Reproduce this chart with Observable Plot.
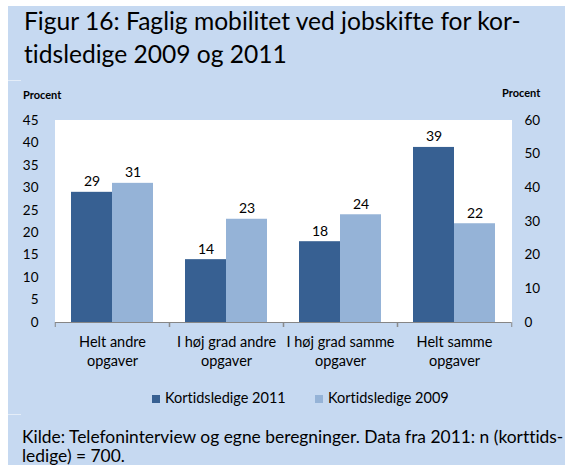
<!DOCTYPE html>
<html><head><meta charset="utf-8">
<script src="https://cdn.jsdelivr.net/npm/d3@7"></script>
<script src="https://cdn.jsdelivr.net/npm/@observablehq/plot@0.6"></script>
<style>
body{margin:0;background:#fff;width:565px;height:465px;overflow:hidden;position:relative;font-family:Lato,"Open Sans",sans-serif;color:#000;font-variant-ligatures:none;}
#bg{position:absolute;left:8px;top:6px;width:557px;height:459px;background:#c6d9f1;}
.sep{position:absolute;left:8px;width:13px;height:1px;background:#e4edf8;}
#title{position:absolute;left:24px;top:4px;font-size:24.6px;line-height:33px;white-space:nowrap;}
.procent{position:absolute;font-size:11px;font-weight:bold;line-height:13px;}
#chart{position:absolute;left:8px;top:80px;}
#legend{position:absolute;left:0;top:389px;width:565px;font-size:14.5px;}
.li{position:absolute;top:0;white-space:nowrap;line-height:18px;}
.sw{display:inline-block;width:8px;height:8px;margin-right:5px;vertical-align:0px;}
#caption{position:absolute;left:22px;top:427px;font-size:17.4px;line-height:19px;white-space:nowrap;}
svg text{font-variant-ligatures:none;}
</style>
</head><body>
<div id="bg"></div>
<div class="sep" style="top:80px"></div>
<div class="sep" style="top:414px"></div>
<div id="title">Figur 16: Faglig mobilitet ved jobskifte for kor-<br>tidsledige 2009 og 2011</div>
<div class="procent" style="left:23px;top:88px">Procent</div>
<div class="procent" style="left:502px;top:86px">Procent</div>
<div id="chart"></div>
<div id="legend"></div>
<div id="caption">Kilde: Telefoninterview og egne beregninger. Data fra 2011: n (korttids-<br>ledige) = 700.</div>
<script>
const categories = ["Helt andre opgaver", "I høj grad andre opgaver", "I høj grad samme opgaver", "Helt samme opgaver"];
const categoryLabels = ["Helt andre\nopgaver", "I høj grad andre\nopgaver", "I høj grad samme\nopgaver", "Helt samme\nopgaver"];
const series = ["Kortidsledige 2011", "Kortidsledige 2009"];
const values2011 = [29, 14, 18, 39];
const values2009 = [31, 23, 24, 22];
const leftTicks = [0, 5, 10, 15, 20, 25, 30, 35, 40, 45];
const rightTicks = [0, 10, 20, 30, 40, 50, 60];
const colors = ["#376092", "#95b3d7"];

const data = [];
categories.forEach((c, i) => {
  data.push({category: c, series: series[0], value: values2011[i]});
  data.push({category: c, series: series[1], value: values2009[i]});
});

const W = 557, H = 300, mL = 46, mR = 53, mT = 40, mB = 58;
const half = (W - mL - mR) / categories.length / 2;
const leftMax = 45, rightMax = 60;

const chart = Plot.plot({
  width: W, height: H,
  marginLeft: mL, marginRight: mR, marginTop: mT, marginBottom: mB,
  style: {background: "transparent", fontFamily: "Lato, sans-serif", fontSize: "13.5px", color: "#000", overflow: "visible"},
  fx: {domain: categories, padding: 0, label: null, axis: null},
  x: {domain: series, paddingInner: 0, paddingOuter: 0.363, axis: null},
  y: {domain: [0, leftMax], axis: null},
  color: {domain: series, range: colors},
  marks: [
    Plot.frame({fill: "white", stroke: "white"}),
    Plot.barY(data, {fx: "category", x: "series", y: "value", fill: "series"}),
    Plot.text(data, {fx: "category", x: "series", y: "value", text: d => String(d.value), dy: -6, lineAnchor: "bottom", fontSize: 14, fill: "#000"}),
    Plot.ruleY([0], {stroke: "#868686"}),
    Plot.axisFx({anchor: "bottom", tickSize: 0, tickPadding: 11, tickFormat: d => categoryLabels[categories.indexOf(d)], lineHeight: 1.32, fontSize: 14.5, label: null, fill: "#000"}),
    Plot.axisFx({anchor: "bottom", text: null, tickSize: 5, dx: -half, stroke: "#868686", label: null}),
    Plot.axisFx([categories[categories.length - 1]], {anchor: "bottom", text: null, tickSize: 5, dx: half, stroke: "#868686", label: null}),
    Plot.axisY(leftTicks, {anchor: "left", tickSize: 0, tickPadding: 17, label: null, fontSize: 13.5}),
    Plot.axisY(rightTicks.map(v => v * leftMax / rightMax), {anchor: "right", tickSize: 0, tickPadding: 13, label: null, fontSize: 13.5, tickFormat: d => String(Math.round(d * rightMax / leftMax))})
  ]
});
document.getElementById("chart").appendChild(chart);

const legendPos = [152, 315];
const legend = document.getElementById("legend");
series.forEach((s, i) => {
  const item = document.createElement("div");
  item.className = "li";
  item.style.left = legendPos[i] + "px";
  item.innerHTML = `<span class="sw" style="background:${colors[i]}"></span>${s}`;
  legend.appendChild(item);
});
</script>
</body></html>
